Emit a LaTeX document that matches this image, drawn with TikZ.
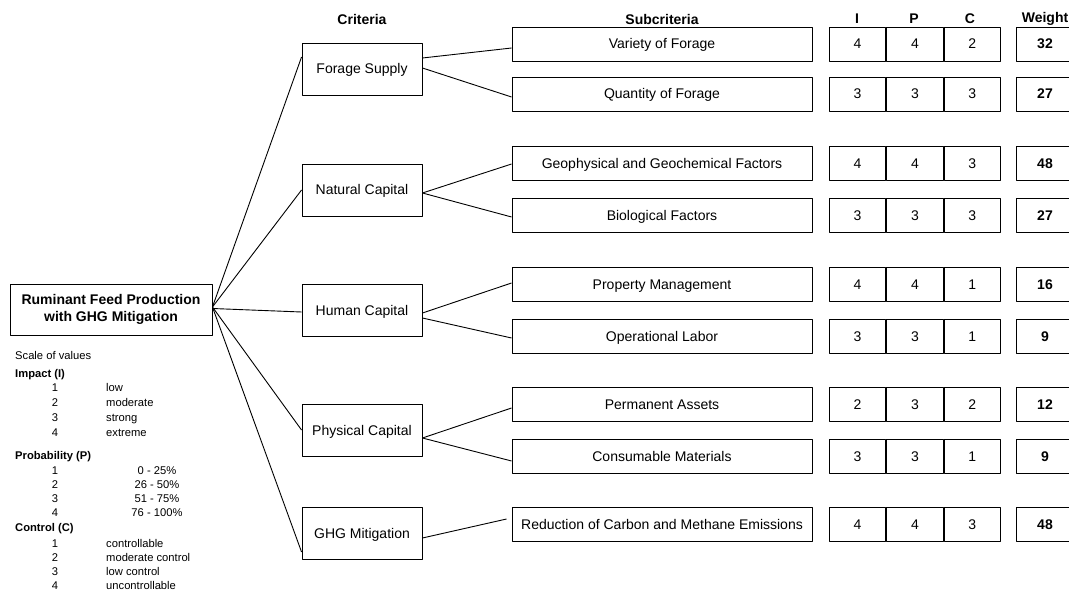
\documentclass[tikz,border=0pt]{standalone}
\usepackage{fontspec}
\setmainfont{Liberation Sans}
\begin{document}
\begin{tikzpicture}[x=1pt,y=-1pt,line join=round,
	frame/.style={draw,line width=0.9pt,inner sep=0pt},
	box/.style={frame,text height=10pt,text depth=0pt,font=\fontsize{14}{16}\selectfont},
	root/.style={frame,minimum width=202pt,minimum height=51pt,align=center,font=\fontsize{14}{17}\selectfont\bfseries},
	crit/.style={box,minimum width=120pt,minimum height=52pt},
	sub/.style={box,minimum width=300pt,minimum height=34pt},
	cell/.style={box,minimum width=56.5pt,minimum height=34pt},
	wbox/.style={box,minimum width=58pt,minimum height=34pt,font=\fontsize{14}{16}\selectfont\bfseries},
	head/.style={inner sep=0pt,font=\fontsize{14}{16}\selectfont\bfseries},
	legend/.style={inner sep=0pt,text height=8pt,text depth=0pt,font=\fontsize{11.2}{13}\selectfont},
	legbold/.style={legend,anchor=west,font=\fontsize{11.2}{13}\selectfont\bfseries},
	link/.style={line width=0.9pt}]
	\useasboundingbox (0,0) rectangle (1069,591);
	
	% headers
	\node[head] (hcrit) at (362,19) {Criteria};
	\node[head] (hsub) at (662,19) {Subcriteria};
	\node[head] (hi) at (857,19) {I};
	\node[head] (hp) at (914,19) {P};
	\node[head] (hc) at (970,19) {C};
	\node[head] (hw) at (1045,19) {Weight};
	
	\node[root] (r) at (111,309.5) {Ruminant Feed Production\\with GHG Mitigation};
	
	\foreach \n/\y/\t in {1/69/Forage Supply,2/190/Natural Capital,3/310/Human Capital,4/430/Physical Capital,5/533/GHG Mitigation}
		\node[crit] (c\n) at (362,\y) {\t};
	
	\foreach \n/\y/\t/\i/\p/\c/\w in {
		1/44/Variety of Forage/4/4/2/32,
		2/94/Quantity of Forage/3/3/3/27,
		3/163/Geophysical and Geochemical Factors/4/4/3/48,
		4/215/Biological Factors/3/3/3/27,
		5/284/Property Management/4/4/1/16,
		6/336/Operational Labor/3/3/1/9,
		7/404/Permanent Assets/2/3/2/12,
		8/456/Consumable Materials/3/3/1/9,
		9/524/Reduction of Carbon and Methane Emissions/4/4/3/48}
	{
		\node[sub] (s\n) at (662,\y) {\t};
		\node[cell] (i\n) at (857.5,\y) {\i};
		\node[cell,anchor=west] (p\n) at (i\n.east) {\p};
		\node[cell,anchor=west] (k\n) at (p\n.east) {\c};
		\node[wbox] (w\n) at (1045,\y) {\w};
	}
	
	% root to criteria
	\draw[link] ([yshift=2.5pt]r.east) -- ([yshift=12pt]c1.west);
	\draw[link] ([yshift=2.5pt]r.east) -- (c2.west);
	\draw[link] ([yshift=1pt]r.east) -- ([yshift=-2pt]c3.west);
	\draw[link] ([yshift=2.5pt]r.east) -- (c4.west);
	\draw[link] ([yshift=2.5pt]r.east) -- ([yshift=-19pt]c5.west);
	
	% criteria to subcriteria
	\draw[link] ([yshift=11pt]c1.east) -- ([yshift=-4pt]s1.west);
	\draw[link] ([yshift=1pt]c1.east) -- ([yshift=-3pt]s2.west);
	\draw[link] ([yshift=-3pt]c2.east) -- ([yshift=-1pt]s3.west);
	\draw[link] ([yshift=-3pt]c2.east) -- ([yshift=-2pt]s4.west);
	\draw[link] ([yshift=-3pt]c3.east) -- ([yshift=1pt]s5.west);
	\draw[link] ([yshift=-8pt]c3.east) -- ([yshift=-2pt]s6.west);
	\draw[link] ([yshift=-8pt]c4.east) -- ([yshift=-4pt]s7.west);
	\draw[link] ([yshift=-8pt]c4.east) -- ([yshift=-5pt]s8.west);
	\draw[link] ([yshift=-5pt]c5.east) -- ([shift={(-5pt,5pt)}]s9.west);
	
	% scale of values
	\node[legend,anchor=west] (scale) at (15,355) {Scale of values};
	\node[legbold] (limp) at (15,373) {Impact (I)};
	\foreach \k/\y/\t in {1/387/low,2/402/moderate,3/417/strong,4/432/extreme}{
		\node[legend] (imp\k) at (55,\y) {\k};
		\node[legend,anchor=west] (impt\k) at (106,\y) {\t};
	}
	\node[legbold] (lprob) at (15,455) {Probability (P)};
	\foreach \k/\y/\t in {1/470/0 - 25\%,2/484/26 - 50\%,3/498/51 - 75\%,4/512/76 - 100\%}{
		\node[legend] (prob\k) at (55,\y) {\k};
		\node[legend] (probt\k) at (157,\y) {\t};
	}
	\node[legbold] (lcon) at (15,527) {Control (C)};
	\foreach \k/\y/\t in {1/543/controllable,2/557/moderate control,3/571/low control,4/585/uncontrollable}{
		\node[legend] (con\k) at (55,\y) {\k};
		\node[legend,anchor=west] (cont\k) at (106,\y) {\t};
	}
\end{tikzpicture}
\end{document}
